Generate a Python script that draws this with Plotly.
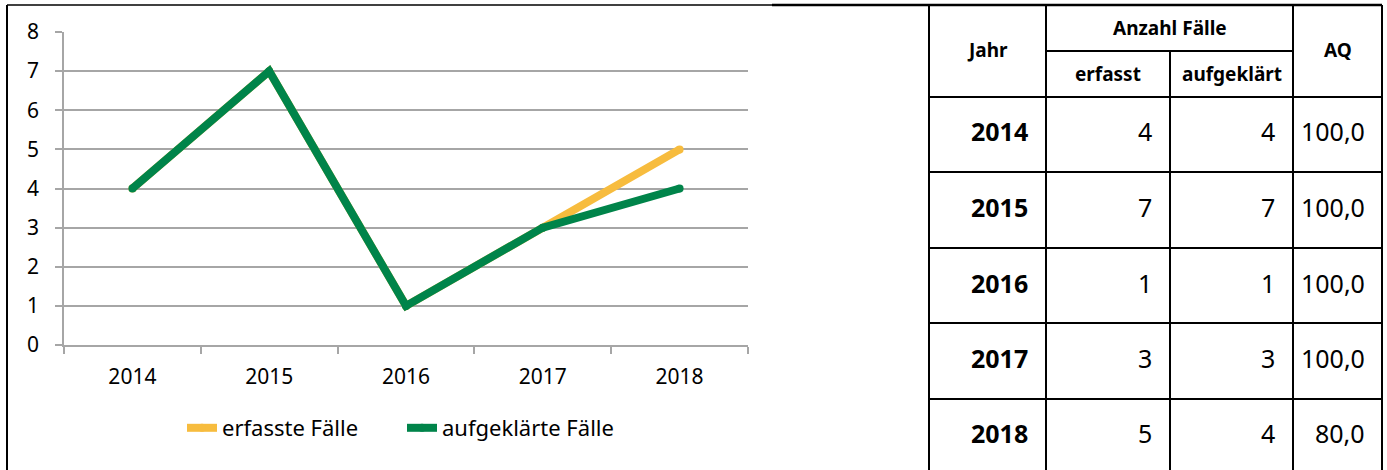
import plotly.graph_objects as go

# ---- data ----
years = ["2014", "2015", "2016", "2017", "2018"]
erfasst = [4, 7, 1, 3, 5]
aufgeklaert = [4, 7, 1, 3, 4]
aq = ["100,0", "100,0", "100,0", "100,0", "80,0"]
y_ticks = [0, 1, 2, 3, 4, 5, 6, 7, 8]
series_names = ["erfasste Fälle", "aufgeklärte Fälle"]
header_top = "Anzahl Fälle"
header_sub = ["erfasst", "aufgeklärt"]
header_jahr = "Jahr"
header_aq = "AQ"

W, H = 1387, 470
FONT = "Noto Sans"
YELLOW = "#F7BC3E"
GREEN = "#00844A"
GRID = "#A6A6A6"


def px(x):
    return x / W


def py(y):
    return 1 - y / H


fig = go.Figure()
fig.add_trace(go.Scatter(
    x=years, y=erfasst, name=series_names[0], mode="lines+markers",
    line=dict(color=YELLOW, width=8), marker=dict(color=YELLOW, size=8),
))
fig.add_trace(go.Scatter(
    x=years, y=aufgeklaert, name=series_names[1], mode="lines+markers",
    line=dict(color=GREEN, width=8), marker=dict(color=GREEN, size=8),
))

shapes = []


def line(x0, y0, x1, y1, w=2, c="black"):
    shapes.append(dict(type="line", xref="paper", yref="paper",
                       x0=px(x0), y0=py(y0), x1=px(x1), y1=py(y1),
                       line=dict(color=c, width=w)))


# chart frame
line(7, 5, 7, 472, w=2)
line(7, 5, 772, 5, w=1.5)
# table
TL, TR = 929, 1382
cols = [929, 1046, 1170, 1293, 1382]
rows = [97, 172, 248, 323, 399]
line(772, 5, TR, 5, w=2.5)
line(TL, 5, TL, 472)
line(cols[1], 5, cols[1], 472)
line(cols[2], 51, cols[2], 472)
line(cols[3], 5, cols[3], 472)
line(TR, 5, TR, 472)
line(cols[1], 51, cols[3], 51)
for r in rows:
    line(TL, r, TR, r)

ann = []


def text(t, x, y, size, bold=False, anchor="center"):
    ann.append(dict(text=f"<b>{t}</b>" if bold else t, xref="paper", yref="paper",
                    x=px(x), y=py(y), xanchor=anchor, yanchor="middle",
                    showarrow=False, font=dict(family=FONT, size=size, color="black")))


HS = 19
text(header_jahr, (cols[0] + cols[1]) / 2, 50, HS, bold=True)
text(header_top, (cols[1] + cols[3]) / 2, 28, HS, bold=True)
text(header_sub[0], (cols[1] + cols[2]) / 2, 74, HS, bold=True)
text(header_sub[1], (cols[2] + cols[3]) / 2, 74, HS, bold=True)
text(header_aq, (cols[3] + cols[4]) / 2, 50, HS, bold=True)

BS = 25
row_bounds = rows + [472]
for i, yr in enumerate(years):
    yc = (row_bounds[i] + row_bounds[i + 1]) / 2 - 3
    text(yr, cols[1] - 16, yc, BS, bold=True, anchor="right")
    text(str(erfasst[i]), cols[2] - 16, yc, BS, anchor="right")
    text(str(aufgeklaert[i]), cols[3] - 16, yc, BS, anchor="right")
    text(aq[i], cols[4] - 15, yc, BS, anchor="right")

fig.update_layout(
    width=W, height=H, autosize=False,
    margin=dict(l=0, r=0, t=0, b=0, pad=0, autoexpand=False),
    paper_bgcolor="white", plot_bgcolor="white",
    font=dict(family=FONT, size=21, color="black"),
    showlegend=True,
    legend=dict(orientation="h", x=px(182), xanchor="left", y=py(428), yanchor="middle",
                font=dict(size=22), itemwidth=30, traceorder="normal",
                entrywidth=175, entrywidthmode="pixels"),
    xaxis=dict(domain=[px(64), px(748)], type="category", range=[-0.5, 4.5],
               tickson="boundaries",
               ticks="outside", ticklen=7, tickcolor=GRID, tickwidth=1.5,
               showline=True, linecolor=GRID, linewidth=1.5, showgrid=False,
               tickfont=dict(size=21), ticklabelstandoff=12,
               fixedrange=True, automargin=False),
    yaxis=dict(domain=[py(345), py(32)], range=[0, 8], tickvals=y_ticks,
               ticks="outside", ticklen=7, tickcolor=GRID, tickwidth=1.5,
               showline=True, linecolor=GRID, linewidth=1.5,
               showgrid=True, gridcolor=GRID, gridwidth=1.5, zeroline=False,
               tickfont=dict(size=21), ticklabelstandoff=12, fixedrange=True,
               automargin=False),
    shapes=shapes, annotations=ann,
)

fig.write_html("out.html", config={"displayModeBar": False},
               post_script="document.body.style.margin='0';document.body.style.overflow='hidden';")
